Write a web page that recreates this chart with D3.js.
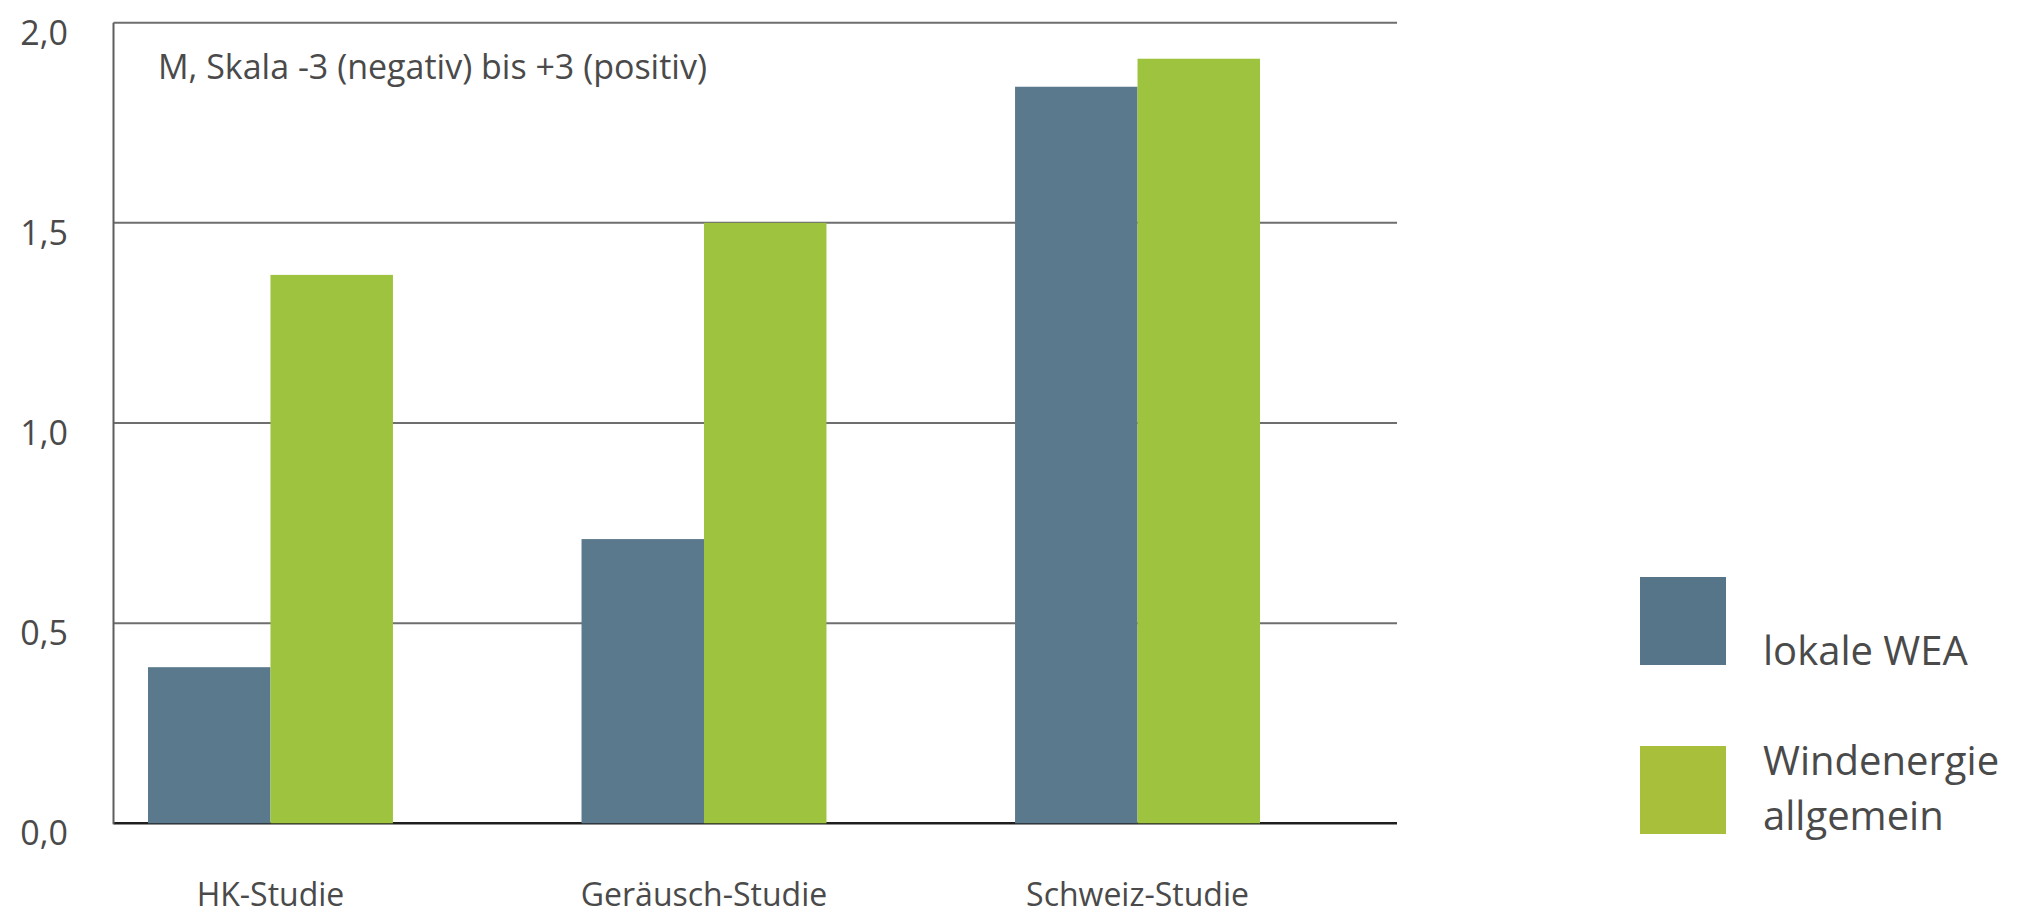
<!DOCTYPE html>
<html>
<head>
<meta charset="utf-8">
<script src="https://cdn.jsdelivr.net/npm/d3@7"></script>
<style>
  html, body { margin: 0; padding: 0; background: #fff; }
  svg { display: block; }
  text { font-family: "Open Sans", "Noto Sans", sans-serif; fill: #4a4a4a; }
</style>
</head>
<body>
<svg id="chart" width="2022" height="917"></svg>
<script>
// ---- data ----
const categories = ["HK-Studie", "Geräusch-Studie", "Schweiz-Studie"];
const seriesNames = ["lokale WEA", "Windenergie allgemein"];
const lokaleWEA = [0.39, 0.71, 1.84];
const windenergieAllgemein = [1.37, 1.50, 1.91];
const yTicks = [0, 0.5, 1.0, 1.5, 2.0];
const subtitle = "M, Skala -3 (negativ) bis +3 (positiv)";
const legendLines = [["lokale WEA"], ["Windenergie", "allgemein"]];

const colors = ["#5a798d", "#9dc33f"];
const legendColors = ["#567589", "#a7bf3a"];

const table = categories.map((c, i) => ({
  cat: c,
  values: [lokaleWEA[i], windenergieAllgemein[i]]
}));

const svg = d3.select("#chart");

const plotLeft = 113.5, plotRight = 1397;
const y = d3.scaleLinear().domain([0, 2]).range([823.3, 22.7]);
const x0 = d3.scaleBand().domain(categories).range([148, 1260]).paddingInner(0.435).paddingOuter(0);
const x1 = d3.scaleBand().domain(seriesNames).range([0, x0.bandwidth()]).padding(0);

const fmt = d => d3.format(".1f")(d).replace(".", ",");

// gridlines
svg.append("g").selectAll("line")
  .data(yTicks.filter(t => t !== 0))
  .join("line")
  .attr("x1", plotLeft).attr("x2", plotRight)
  .attr("y1", d => y(d)).attr("y2", d => y(d))
  .attr("stroke", "#6e6e6e").attr("stroke-width", 2);

// baseline
svg.append("line")
  .attr("x1", plotLeft).attr("x2", plotRight)
  .attr("y1", y(0)).attr("y2", y(0))
  .attr("stroke", "#1e1e1e").attr("stroke-width", 2.5);

// left axis line
svg.append("line")
  .attr("x1", plotLeft).attr("x2", plotLeft)
  .attr("y1", y(2)).attr("y2", y(0) + 1)
  .attr("stroke", "#5e5e5e").attr("stroke-width", 2);

// y labels
svg.append("g").selectAll("text")
  .data(yTicks)
  .join("text")
  .attr("x", 68)
  .attr("y", d => y(d))
  .attr("dy", 22)
  .attr("text-anchor", "end")
  .attr("font-size", 34)
  .text(fmt);

// bars
const groups = svg.append("g").selectAll("g")
  .data(table)
  .join("g")
  .attr("transform", d => `translate(${x0(d.cat)},0)`);

groups.selectAll("rect")
  .data(d => d.values.map((v, i) => ({ key: seriesNames[i], v, i })))
  .join("rect")
  .attr("x", d => x1(d.key))
  .attr("width", x1.bandwidth())
  .attr("y", d => y(d.v))
  .attr("height", d => y(0) - y(d.v))
  .attr("fill", d => colors[d.i]);

// x labels
svg.append("g").selectAll("text")
  .data(categories)
  .join("text")
  .attr("x", d => x0(d) + x0.bandwidth() / 2)
  .attr("y", 906)
  .attr("text-anchor", "middle")
  .attr("font-size", 32)
  .text(d => d);

// subtitle
svg.append("text")
  .attr("x", 158)
  .attr("y", 79)
  .attr("font-size", 34)
  .text(subtitle);

// legend
const legendY = [577, 746];
const leg = svg.append("g").selectAll("g")
  .data(seriesNames)
  .join("g");
leg.append("rect")
  .attr("x", 1640)
  .attr("y", (d, i) => legendY[i])
  .attr("width", 86)
  .attr("height", 88)
  .attr("fill", (d, i) => legendColors[i]);
leg.each(function(d, i) {
  const g = d3.select(this);
  const lines = legendLines[i];
  const baseY = i === 0 ? 665 : 775;
  lines.forEach((ln, j) => {
    g.append("text")
      .attr("x", 1763)
      .attr("y", baseY + j * 55)
      .attr("font-size", 40)
      .text(ln);
  });
});
</script>
</body>
</html>
